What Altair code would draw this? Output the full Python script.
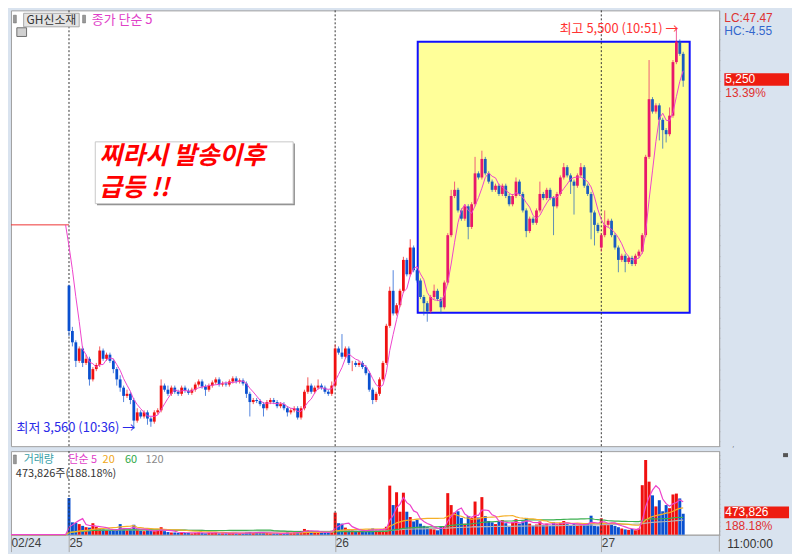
import altair as alt
import pandas as pd

# ---------------- data (5-minute bars) ----------------
PREV_CLOSE = 4550          # 02/24 (flat, no trading)
PREV_BARS = 17
DAY_STARTS = [0, 78, 156]
GAP_OPEN = {0: 4255, 156: 4440}

CLOSE_25 = [4035, 3980, 3890, 3950, 3880, 3900, 3800, 3850, 3870, 3940,
            3900, 3920, 3890, 3850, 3800, 3760, 3720, 3730, 3700, 3600,
            3640, 3620, 3640, 3610, 3595, 3640, 3650, 3770, 3750, 3730,
            3760, 3740, 3730, 3760, 3745, 3735, 3750, 3775, 3790, 3765,
            3750, 3770, 3785, 3800, 3775, 3780, 3775, 3790, 3805, 3790,
            3795, 3780, 3730, 3690, 3700, 3695, 3680, 3660, 3690, 3700,
            3690, 3670, 3680, 3660, 3640, 3650, 3660, 3615, 3660, 3740,
            3770, 3740, 3760, 3770, 3760, 3740, 3730, 3770]
CLOSE_26 = [3950, 3930, 3910, 3950, 3880, 3880, 3870, 3880, 3860, 3830,
            3750, 3700, 3730, 3800, 3880, 4060, 4230, 4120, 4160, 4230,
            4380, 4310, 4440, 4330, 4280, 4200, 4170, 4130, 4200, 4230,
            4190, 4150, 4270, 4500, 4690, 4720, 4620, 4580, 4640, 4540,
            4650, 4800, 4780, 4870, 4800, 4760, 4720, 4740, 4700, 4740,
            4690, 4650, 4690, 4760, 4700, 4620, 4520, 4580, 4560, 4620,
            4700, 4680, 4720, 4680, 4640, 4700, 4780, 4830, 4790, 4760,
            4740, 4790, 4830, 4740, 4700, 4610, 4550, 4520]
CLOSE_27 = [4500, 4550, 4570, 4500, 4440, 4380, 4400, 4370, 4390, 4360,
            4400, 4420, 4500, 4880, 5160, 5100, 5130, 5060, 5010, 4990,
            5080, 5340, 5440, 5380, 5250]

UPW_25 = [5, 20, 10, 10, 10, 20, 10, 10, 10, 20,
          10, 10, 10, 10, 10, 20, 10, 20, 10, 10,
          20, 10, 10, 10, 10, 10, 10, 30, 10, 20,
          10, 10, 10, 10, 10, 10, 10, 10, 10, 10,
          10, 10, 10, 10, 10, 10, 10, 10, 10, 10,
          10, 10, 10, 10, 10, 10, 10, 10, 10, 10,
          10, 10, 10, 10, 10, 10, 10, 10, 10, 10,
          40, 10, 10, 30, 10, 10, 10, 20]
DNW_25 = [25, 20, 30, 10, 20, 10, 30, 10, 10, 10,
          10, 10, 10, 20, 30, 20, 30, 10, 20, 40,
          10, 10, 10, 30, 25, 10, 10, 10, 10, 10,
          10, 10, 10, 10, 10, 10, 10, 10, 10, 10,
          30, 10, 10, 10, 10, 10, 10, 10, 10, 10,
          10, 10, 20, 70, 10, 10, 10, 40, 10, 10,
          10, 10, 10, 10, 20, 10, 10, 10, 10, 10,
          10, 10, 10, 10, 10, 10, 10, 10]
UPW_26 = [20, 10, 90, 10, 10, 10, 10, 10, 10, 10,
          10, 10, 10, 10, 10, 10, 20, 100, 10, 10,
          15, 10, 40, 10, 10, 10, 10, 10, 10, 30,
          10, 10, 10, 10, 30, 40, 10, 10, 10, 10,
          10, 80, 10, 40, 10, 10, 10, 10, 10, 10,
          10, 10, 10, 20, 10, 10, 10, 10, 10, 10,
          60, 10, 10, 10, 10, 10, 10, 20, 10, 10,
          10, 10, 20, 10, 10, 10, 10, 10]
DNW_26 = [10, 10, 10, 10, 10, 40, 10, 10, 10, 10,
          10, 20, 10, 10, 10, 10, 10, 10, 10, 10,
          10, 10, 10, 10, 10, 10, 60, 50, 10, 10,
          10, 30, 10, 10, 10, 10, 10, 10, 10, 60,
          10, 10, 10, 10, 10, 10, 10, 10, 10, 10,
          10, 10, 10, 10, 10, 10, 30, 10, 10, 10,
          10, 10, 10, 10, 140, 10, 10, 10, 10, 60,
          140, 10, 10, 10, 10, 130, 100, 10]
UPW_27 = [10, 70, 10, 10, 10, 10, 10, 10, 10, 10,
          10, 10, 10, 10, 190, 10, 10, 10, 10, 10,
          40, 10, 60, 10, 10]
DNW_27 = [20, 10, 10, 10, 10, 60, 10, 50, 10, 10,
          10, 10, 10, 10, 10, 10, 10, 100, 90, 40,
          10, 10, 10, 10, 30]

# volume, thousands of shares
VOL_24 = [0] * PREV_BARS
VOL_25 = [830, 280, 270, 240, 200, 170, 160, 260, 180, 150,
          120, 100, 90, 110, 120, 240, 130, 100, 120, 225,
          110, 90, 80, 100, 90, 80, 100, 170, 80, 60,
          50, 50, 40, 50, 40, 40, 30, 40, 50, 40,
          30, 40, 40, 50, 30, 30, 30, 40, 40, 30,
          30, 30, 50, 60, 40, 50, 40, 50, 40, 30,
          30, 30, 30, 40, 50, 40, 50, 60, 80, 130,
          100, 60, 50, 60, 40, 50, 60, 90]
VOL_26 = [500, 260, 250, 160, 130, 110, 90, 80, 90, 100,
          120, 140, 110, 100, 120, 180, 1110, 670, 960, 520,
          950, 520, 400, 300, 340, 250, 200, 170, 150, 120,
          100, 180, 180, 940, 670, 500, 530, 380, 250, 420,
          380, 750, 390, 850, 420, 310, 280, 240, 300, 330,
          260, 200, 280, 350, 250, 300, 380, 250, 200, 230,
          300, 220, 250, 200, 280, 240, 270, 310, 240, 200,
          240, 230, 250, 220, 260, 430, 200, 190]
VOL_27 = [370, 270, 240, 260, 200, 170, 140, 120, 110, 130,
          100, 140, 1120, 1690, 1200, 890, 640, 780, 530, 670,
          600, 910, 930, 820, 473.826]

close = CLOSE_25 + CLOSE_26 + CLOSE_27
upw = UPW_25 + UPW_26 + UPW_27
dnw = DNW_25 + DNW_26 + DNW_27
vol = VOL_25 + VOL_26 + VOL_27
assert len(close) == len(upw) == len(dnw) == len(vol) == 181

RED, BLUE = "#f01010", "#0a50d0"
RED_BOX, BLUE_BOX = "#e8186a", "#1a5cc0"
BOX_START = 103
rows = []
prev = PREV_CLOSE
for i, c in enumerate(close):
    o = GAP_OPEN.get(i, prev)
    up = c >= o
    inbox = i >= BOX_START
    rows.append(dict(i=i, open=o, close=c,
                     high=max(o, c) + upw[i], low=min(o, c) - dnw[i],
                     vol=vol[i] * 1000,
                     col=(RED_BOX if inbox else RED) if up else (BLUE_BOX if inbox else BLUE),
                     vcol=RED if up else BLUE))
    prev = c
bars = pd.DataFrame(rows)

ma_df = pd.DataFrame({"i": list(range(-PREV_BARS, 0)) + list(range(len(close))),
                      "close": [PREV_CLOSE] * PREV_BARS + close})
vma_df = pd.DataFrame({"i": list(range(-PREV_BARS, 0)) + list(range(len(close))),
                       "vol": [v * 1000 for v in VOL_24 + vol]})
flat_df = pd.DataFrame({"i": [-PREV_BARS, 0], "close": [PREV_CLOSE, PREV_CLOSE]})

# ---------------- layout ----------------
W, H1, H2, HS = 712, 438, 84, 17
BG = "#d9e3ef"
KF = "Noto Sans CJK KR"
NF = "Liberation Sans"


def px(x):
    return x * W / 727


def py(y):
    return y * H1 / 451


def vy(y):
    return (y - 452) * H2 / 86


XS = alt.Scale(domain=[-PREV_BARS, 190.6], nice=False, zero=False)
YS = alt.Scale(domain=[3476, 5591], nice=False, zero=False)
VS = alt.Scale(domain=[0, 1890000], nice=False, zero=False)

YAX = alt.Axis(orient="right", title=None, values=list(range(3500, 5600, 50)),
               labelExpr="(datum.value % 250 == 0 && datum.value <= 5000) ? format(datum.value, ',') : ''",
               tickSize=3, tickColor="#8a8a8a", domainColor="#9a9a9a",
               labelColor="#505050", labelFont=NF, labelFontSize=12, labelPadding=2,
               grid=False, labelOverlap=False)
VAX = alt.Axis(orient="right", title=None, values=list(range(0, 1900000, 100000)),
               labelExpr="datum.value == 1000000 ? '1,000K' : (datum.value == 1500000 ? '1,500K' : '')",
               tickSize=3, tickColor="#8a8a8a", domainColor="#9a9a9a",
               labelColor="#505050", labelFont=NF, labelFontSize=12, labelPadding=2,
               grid=False, labelOverlap=False)
XAX = alt.Axis(orient="bottom", title=None, values=[-PREV_BARS] + DAY_STARTS,
               labelExpr="datum.value < 0 ? ' 02/24' : (datum.value == 0 ? ' 25' : (datum.value == 78 ? ' 26' : ' 27'))",
               tickSize=HS, tickColor="#a8a8a8", domainColor="#a8a8a8",
               labelAlign="left", labelBaseline="middle", labelPadding=-9,
               labelFont=NF, labelFontSize=12, labelColor="#404040",
               labelFlush=False, labelOverlap=False, grid=False)

X = alt.X("i:Q", scale=XS, axis=None)
one = pd.DataFrame({"k": [0]})

# ---------------- price panel ----------------
box_df = pd.DataFrame({"x1": [102.2], "x2": [181.9], "y1": [5439], "y2": [4123]})
yellow = alt.Chart(box_df).mark_rect(fill="#ffff99", stroke="#1010ff", strokeWidth=2).encode(
    x=alt.X("x1:Q", scale=XS, axis=None), x2="x2:Q",
    y=alt.Y("y1:Q", scale=YS, axis=YAX), y2="y2:Q")

days_df = pd.DataFrame({"i": DAY_STARTS})
vlines_p = alt.Chart(days_df).mark_rule(color="#333333", strokeDash=[2, 2], strokeWidth=1).encode(
    x=X, y=alt.value(0), y2=alt.value(H1))

flat = alt.Chart(flat_df).mark_line(color="#ee3333", strokeWidth=1).encode(
    x=X, y=alt.Y("close:Q", scale=YS, axis=YAX))

wicks = alt.Chart(bars).mark_rule(strokeWidth=1, opacity=0.7).encode(
    x=X, y=alt.Y("low:Q", scale=YS, axis=YAX), y2="high:Q",
    color=alt.Color("col:N", scale=None))
bodies = alt.Chart(bars).mark_rule(strokeWidth=2.8).encode(
    x=X, y=alt.Y("open:Q", scale=YS, axis=YAX), y2="close:Q",
    color=alt.Color("col:N", scale=None))

ma5 = alt.Chart(ma_df).transform_window(
    ma="mean(close)", frame=[-4, 0], sort=[alt.SortField("i")]
).transform_filter("datum.i >= -1").mark_line(color="#ee44cc", strokeWidth=1).encode(
    x=X, y=alt.Y("ma:Q", scale=YS, axis=YAX))

# annotation box
note_df = pd.DataFrame({"x1": [7.7], "x2": [65.7], "y1": [4953], "y2": [4653]})
note_shadow = alt.Chart(note_df).transform_calculate(
    sx1="datum.x1 + 0.5", sx2="datum.x2 + 0.5", sy1="datum.y1 - 8", sy2="datum.y2 - 8"
).mark_rect(fill="#8c8c8c").encode(
    x=alt.X("sx1:Q", scale=XS, axis=None), x2="sx2:Q",
    y=alt.Y("sy1:Q", scale=YS, axis=YAX), y2="sy2:Q")
note_box = alt.Chart(note_df).mark_rect(fill="white", stroke="#c8c8c8", strokeWidth=1).encode(
    x=alt.X("x1:Q", scale=XS, axis=None), x2="x2:Q",
    y=alt.Y("y1:Q", scale=YS, axis=YAX), y2="y2:Q")
note_txt_df = pd.DataFrame({"i": [8.9, 8.9], "p": [4884, 4727], "t": ["찌라시 발송이후", "급등 !!"]})
note_txt = alt.Chart(note_txt_df).mark_text(
    align="left", baseline="middle", font=KF, fontSize=25, fontWeight="bold",
    fontStyle="italic", color="#ff0000").encode(
    x=X, y=alt.Y("p:Q", scale=YS, axis=YAX), text="t:N")

hl_df = pd.DataFrame({"i": [178.6, 19.4], "p": [5500, 3562],
                      "t": ["최고 5,500 (10:51) →", "최저 3,560 (10:36) →"],
                      "c": ["#ff3333", "#2a2ae8"]})
hl_txt = alt.Chart(hl_df).mark_text(align="right", baseline="middle", font=KF, fontSize=13).encode(
    x=X, y=alt.Y("p:Q", scale=YS, axis=YAX), text="t:N",
    color=alt.Color("c:N", scale=None))

# top-left legend chrome
tl_box = alt.Chart(one).mark_rect(fill="#e4e4e4", stroke="#a8a8a8", strokeWidth=1).encode(
    x=alt.value(px(13)), x2=alt.value(px(70)), y=alt.value(py(3)), y2=alt.value(py(17)))
tl_icons = alt.Chart(pd.DataFrame({"a": [px(2.5), px(73.5)], "b": [px(5.5), px(76.5)]})).mark_rect(
    fill="#9a9a9a", stroke="#666666", strokeWidth=0.5).encode(
    x=alt.X("a:Q", scale=None), x2="b:Q", y=alt.value(py(5)), y2=alt.value(py(13)))
tl_grid = alt.Chart(one).mark_rect(fill="#d0d0d0", stroke="#707070", strokeWidth=1).encode(
    x=alt.value(px(6)), x2=alt.value(px(16)), y=alt.value(py(18)), y2=alt.value(py(27)))
tl_name = alt.Chart(one).mark_text(text="GH신소재", align="center", baseline="middle",
                                   font=KF, fontSize=12, color="#333333").encode(
    x=alt.value(px(41.5)), y=alt.value(py(10)))
tl_ma = alt.Chart(one).mark_text(text="종가 단순 5", align="left", baseline="middle",
                                 font=KF, fontSize=13, color="#e040c8").encode(
    x=alt.value(px(83)), y=alt.value(py(10)))

# right axis area (price)
r_bg = alt.Chart(one).mark_rect(fill=BG).encode(
    x=alt.value(W + 1), x2=alt.value(W + 72), y=alt.value(0), y2=alt.value(H1))
lc = alt.Chart(one).mark_text(text="LC:47.47", align="left", baseline="middle",
                              font=NF, fontSize=12, color="#dd3333").encode(
    x=alt.value(W + 5), y=alt.value(py(7.5)))
hc = alt.Chart(one).mark_text(text="HC:-4.55", align="left", baseline="middle",
                              font=NF, fontSize=12, color="#3366cc").encode(
    x=alt.value(W + 5), y=alt.value(py(21)))
last_df = pd.DataFrame({"p": [5250]})
last_box = alt.Chart(last_df).mark_rect(fill="#ee1c10").encode(
    x=alt.value(W + 5), x2=alt.value(W + 70),
    y=alt.value(py(65)), y2=alt.value(py(78)))
last_txt = alt.Chart(last_df).mark_text(text="5,250", align="left", baseline="middle",
                                        font=NF, fontSize=12, color="white").encode(
    x=alt.value(W + 6), y=alt.value(py(71.5)))
pct_txt = alt.Chart(one).mark_text(text="13.39%", align="left", baseline="middle",
                                   font=NF, fontSize=12, color="#e03030").encode(
    x=alt.value(W + 6), y=alt.value(py(86)))

price = alt.layer(
    yellow, vlines_p, flat, wicks, bodies, ma5,
    note_shadow, note_box, note_txt, hl_txt,
    tl_box, tl_icons, tl_grid, tl_name, tl_ma,
    r_bg, lc, hc, last_box, last_txt, pct_txt
).properties(width=W, height=H1)

# ---------------- volume panel ----------------
XV = alt.X("i:Q", scale=XS, axis=XAX)
vbars = alt.Chart(bars).mark_rule(strokeWidth=3).encode(
    x=XV, y=alt.Y("vol:Q", scale=VS, axis=VAX), y2=alt.datum(0),
    color=alt.Color("vcol:N", scale=None))
vlines_v = alt.Chart(days_df).mark_rule(color="#333333", strokeDash=[2, 2], strokeWidth=1).encode(
    x=XV, y=alt.value(0), y2=alt.value(H2))

vma_layers = []
for n, colr in [(120, "#b4b4b4"), (60, "#3cb050"), (20, "#f5b028"), (5, "#ee44cc")]:
    vma_layers.append(
        alt.Chart(vma_df).transform_window(
            m="mean(vol)", frame=[-(n - 1), 0], sort=[alt.SortField("i")]
        ).mark_line(color=colr, strokeWidth=1.2).encode(
            x=XV, y=alt.Y("m:Q", scale=VS, axis=VAX)))

leg_df = pd.DataFrame({
    "x": [px(13), px(59), px(94), px(117), px(138)],
    "t": ["거래량", "단순 5", "20", "60", "120"],
    "c": ["#3aa0a8", "#e040c8", "#f0a820", "#30a848", "#8a8a8a"]})
v_leg = alt.Chart(leg_df).mark_text(align="left", baseline="middle", font=KF, fontSize=11).encode(
    x=alt.X("x:Q", scale=None), y=alt.value(vy(461)), text="t:N",
    color=alt.Color("c:N", scale=None))
v_icon = alt.Chart(one).mark_rect(fill="#9a9a9a", stroke="#666666", strokeWidth=0.5).encode(
    x=alt.value(px(2.5)), x2=alt.value(px(5.5)), y=alt.value(vy(456)), y2=alt.value(vy(465)))
v_info = alt.Chart(one).mark_text(text="473,826주(188.18%)", align="left", baseline="middle",
                                  font=KF, fontSize=11, color="#333333").encode(
    x=alt.value(px(5)), y=alt.value(vy(476)))

vr_bg = alt.Chart(one).mark_rect(fill=BG).encode(
    x=alt.value(W + 1), x2=alt.value(W + 72), y=alt.value(0), y2=alt.value(H2 + HS))
v_box = alt.Chart(one).mark_rect(fill="#ee1c10").encode(
    x=alt.value(W + 5), x2=alt.value(W + 70), y=alt.value(vy(509)), y2=alt.value(vy(521)))
v_last = alt.Chart(one).mark_text(text="473,826", align="left", baseline="middle",
                                  font=NF, fontSize=12, color="white").encode(
    x=alt.value(W + 6), y=alt.value(vy(515)))
v_pct = alt.Chart(one).mark_text(text="188.18%", align="left", baseline="middle",
                                 font=NF, fontSize=12, color="#e03030").encode(
    x=alt.value(W + 6), y=alt.value(vy(529)))
v_corner = alt.Chart(one).mark_rect(fill="#555555").encode(
    x=alt.value(W + 64), x2=alt.value(W + 69), y=alt.value(2), y2=alt.value(6))
time_txt = alt.Chart(one).mark_text(text="11:00:00", align="left", baseline="middle",
                                    font=NF, fontSize=12, color="#333333").encode(
    x=alt.value(W + 8), y=alt.value(H2 + 9))
strip_sep = alt.Chart(one).mark_rule(color="#a8a8a8", strokeWidth=1).encode(
    x=alt.value(W), y=alt.value(H2), y2=alt.value(H2 + HS))

volume = alt.layer(
    vbars, *vma_layers, vlines_v, v_leg, v_icon, v_info,
    vr_bg, v_box, v_last, v_pct, v_corner, time_txt, strip_sep
).properties(width=W, height=H2)

chart = alt.vconcat(price, volume, spacing=0).properties(
    padding={"left": 0, "right": 0, "top": 0, "bottom": 0}
).configure(background=BG).configure_view(fill="white", stroke="#a0a0a0", strokeWidth=1)

chart.save("out.html", embed_options={"renderer": "svg", "actions": False})
